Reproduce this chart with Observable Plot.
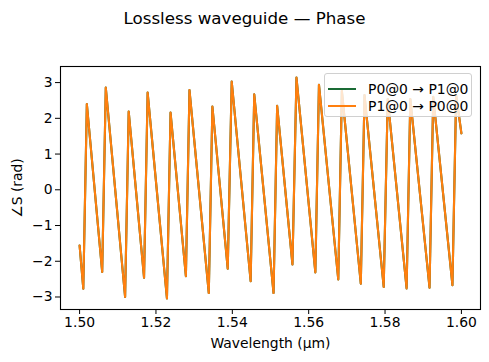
<!DOCTYPE html>
<html>
<head>
<meta charset="utf-8">
<script src="https://cdn.jsdelivr.net/npm/d3@7"></script>
<script src="https://cdn.jsdelivr.net/npm/@observablehq/plot@0.6"></script>
<style>
  html, body { margin: 0; padding: 0; background: #fff; }
  #wrap { position: relative; width: 489px; height: 362px; font-family: "DejaVu Sans", sans-serif; }
  #title { position: absolute; left: 0; width: 489px; top: 8px; text-align: center; font-size: 16.7px; color: #000; }
  #legend { position: absolute; left: 324px; top: 73px; width: 148px; height: 44px; background: rgba(255,255,255,0.8);
            border: 1px solid #d0d0d0; border-radius: 3px; box-sizing: border-box; font-size: 13.9px; color: #000; }
  .item { position: absolute; left: 3px; height: 17px; display: flex; align-items: center; }
  .swatch { width: 28px; height: 2px; margin-right: 12px; }
</style>
</head>
<body>
<div id="wrap">
  <div id="chart"></div>
  <div id="title">Lossless waveguide — Phase</div>
  <div id="legend"></div>
</div>
<script>
const wavelength = [1.5000, 1.50097, 1.50190, 1.50592, 1.50686, 1.51192, 1.51286, 1.51688, 1.51782, 1.52288,
  1.52382, 1.52784, 1.52878, 1.53384, 1.53478, 1.53880, 1.53984, 1.54480, 1.54574, 1.55080,
  1.55174, 1.55575, 1.55680, 1.56175, 1.56269, 1.56775, 1.56869, 1.57365, 1.57462, 1.57965,
  1.58070, 1.58565, 1.58662, 1.59165, 1.59262, 1.59765, 1.59862, 1.6000];
const phaseP0toP1 = [-1.56, -2.77, 2.40, -2.30, 2.86, -3.00, 2.19, -2.46, 2.72, -3.04,
  2.16, -2.42, 2.79, -2.89, 2.33, -2.21, 3.03, -2.56, 2.67, -2.89,
  2.35, -2.09, 3.14, -2.31, 2.94, -2.51, 2.77, -2.63, 2.65, -2.72,
  2.54, -2.76, 2.54, -2.74, 2.60, -2.67, 2.65, 1.58];
const phaseP1toP0 = [-1.56, -2.77, 2.40, -2.30, 2.86, -3.00, 2.19, -2.46, 2.72, -3.04,
  2.16, -2.42, 2.79, -2.89, 2.33, -2.21, 3.03, -2.56, 2.67, -2.89,
  2.35, -2.09, 3.14, -2.31, 2.94, -2.51, 2.77, -2.63, 2.65, -2.72,
  2.54, -2.76, 2.54, -2.74, 2.60, -2.67, 2.65, 1.58];
const seriesNames = ["P0@0 \u2192 P1@0", "P1@0 \u2192 P0@0"];
const seriesColors = ["#1a6b35", "#ff7f0e"];
const xTicks = [1.50, 1.52, 1.54, 1.56, 1.58, 1.60];
const yTicks = [-3, -2, -1, 0, 1, 2, 3];

const s1 = wavelength.map((w, i) => ({w, p: phaseP0toP1[i]}));
const s2 = wavelength.map((w, i) => ({w, p: phaseP1toP0[i]}));

const fmtY = d3.format("d");
const chart = Plot.plot({
  width: 489, height: 362,
  marginLeft: 60, marginRight: 9, marginTop: 66, marginBottom: 53,
  style: {fontFamily: "DejaVu Sans, sans-serif", fontSize: "13.9px", color: "#000", background: "#fff"},
  x: {domain: [1.495, 1.605]},
  y: {domain: [-3.35, 3.45]},
  marks: [
    Plot.line(s1, {x: "w", y: "p", stroke: seriesColors[0], strokeWidth: 2.1}),
    Plot.line(s2, {x: "w", y: "p", stroke: seriesColors[1], strokeWidth: 2.1}),
    Plot.frame({stroke: "#000", strokeWidth: 1.1}),
    Plot.axisX({ticks: xTicks, tickFormat: d3.format(".2f"), tickSize: 5, tickPadding: 3,
      label: "Wavelength (\u00b5m)", labelAnchor: "center", labelArrow: "none", labelOffset: 38}),
    Plot.axisY({ticks: yTicks, tickFormat: fmtY, tickSize: 5, tickPadding: 3,
      label: "\u2220S (rad)", labelAnchor: "center", labelArrow: "none", labelOffset: 48})
  ]
});
document.getElementById("chart").appendChild(chart);

const legend = document.getElementById("legend");
seriesNames.forEach((name, i) => {
  const it = document.createElement("div");
  it.className = "item";
  it.style.top = (6 + i * 17) + "px";
  const sw = document.createElement("div");
  sw.className = "swatch";
  sw.style.background = seriesColors[i];
  const tx = document.createElement("span");
  tx.textContent = name;
  it.appendChild(sw); it.appendChild(tx);
  legend.appendChild(it);
});
</script>
</body>
</html>
